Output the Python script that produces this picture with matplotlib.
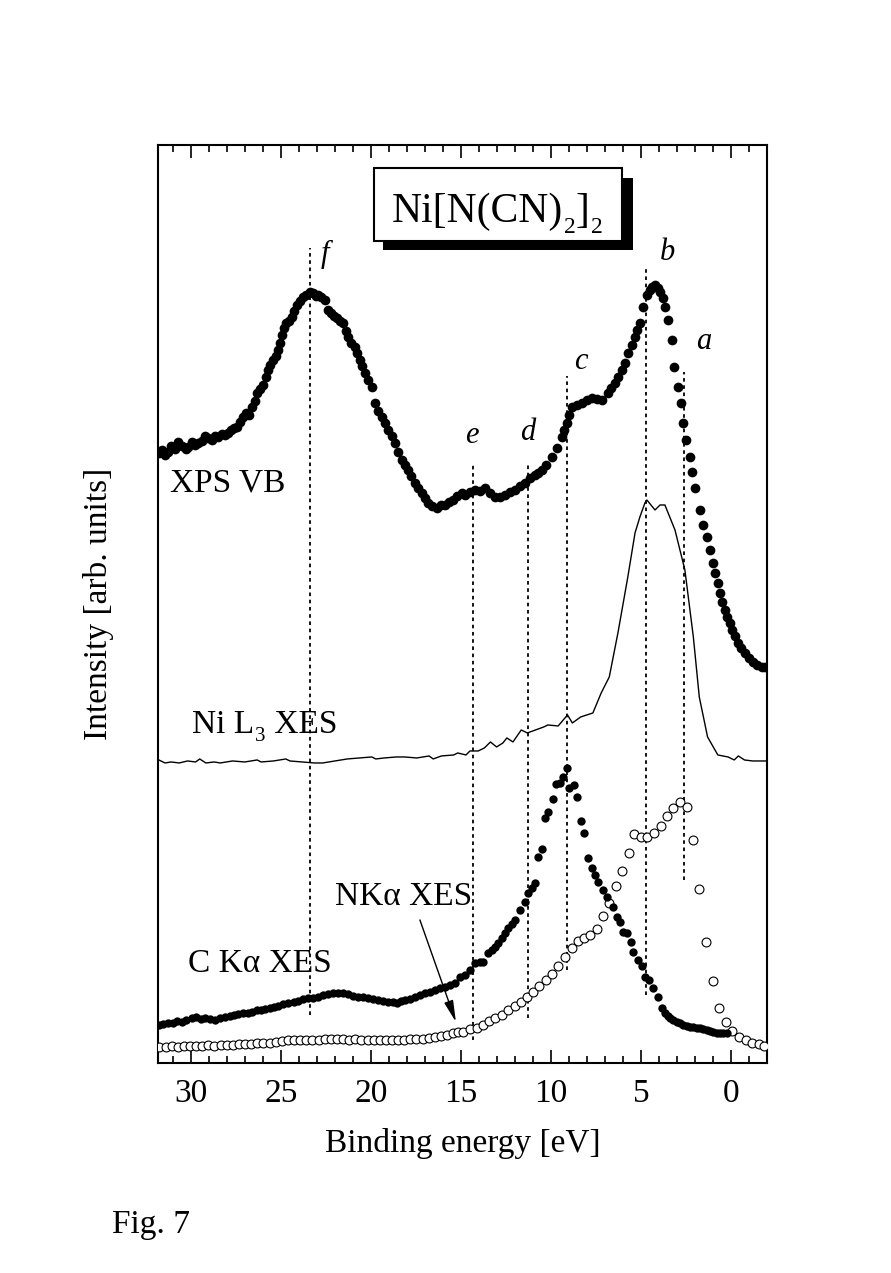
import matplotlib
matplotlib.use("Agg")
import matplotlib.pyplot as plt
from matplotlib.patches import Rectangle
from matplotlib.ticker import MultipleLocator

# ── Data (binding energy in eV, intensity in arbitrary units, offset stacked) ──
XPS_E = [31.80, 31.61, 31.45, 31.28, 31.10, 30.90, 30.72, 30.50, 30.30, 30.17,
         29.95, 29.80, 29.61, 29.40, 29.20, 29.06, 28.85, 28.65, 28.50, 28.30,
         28.10, 27.94, 27.75, 27.60, 27.44, 27.28, 27.11, 26.95, 26.80, 26.61,
         26.45, 26.33, 26.15, 26.00, 25.85, 25.72, 25.58, 25.44, 25.30, 25.17,
         25.05, 24.95, 24.85, 24.70, 24.55, 24.39, 24.25, 24.11, 23.95, 23.78,
         23.60, 23.39, 23.20, 23.05, 22.94, 22.75, 22.56, 22.39, 22.20, 22.05,
         21.89, 21.72, 21.56, 21.40, 21.28, 21.10, 20.89, 20.75, 20.61, 20.47,
         20.33, 20.15, 19.94, 19.78, 19.58, 19.39, 19.22, 19.06, 18.85, 18.67,
         18.48, 18.28, 18.10, 17.94, 17.75, 17.56, 17.37, 17.17, 17.00, 16.83,
         16.60, 16.33, 16.10, 15.89, 15.65, 15.44, 15.20, 14.94, 14.78, 14.50,
         14.22, 13.95, 13.67, 13.40, 13.11, 12.85, 12.56, 12.30, 12.00, 11.72,
         11.44, 11.15, 10.89, 10.70, 10.50, 10.25, 9.94, 9.65, 9.39, 9.25,
         9.11, 8.97, 8.83, 8.55, 8.28, 8.00, 7.72, 7.45, 7.17, 6.83,
         6.65, 6.44, 6.25, 6.06, 5.90, 5.72, 5.50, 5.33, 5.20, 5.06,
         4.89, 4.67, 4.50, 4.39, 4.22, 4.05, 3.94, 3.80, 3.67, 3.50,
         3.28, 3.17, 2.94, 2.78, 2.67, 2.50, 2.28, 2.17, 2.00, 1.72,
         1.56, 1.33, 1.17, 1.00, 0.86, 0.72, 0.60, 0.50, 0.35, 0.22,
         0.08, -0.06, -0.22, -0.39, -0.58, -0.78, -1.00, -1.22, -1.45, -1.72,
         -1.90]
XPS_I = [610, 613, 608, 611, 617, 614, 621, 617, 614, 616,
         621, 618, 620, 622, 627, 625, 623, 627, 626, 629,
         628, 630, 633, 635, 636, 641, 646, 650, 648, 656,
         662, 670, 674, 678, 686, 693, 698, 703, 707, 713,
         720, 728, 735, 740, 742, 746, 752, 758, 762, 766,
         768, 771, 770, 767, 768, 766, 763, 753, 750, 747,
         745, 742, 740, 732, 726, 720, 716, 710, 703, 697,
         690, 683, 676, 660, 652, 646, 640, 633, 627, 620,
         611, 603, 598, 593, 587, 580, 575, 570, 565, 560,
         557, 555, 558, 558, 561, 563, 567, 570, 568, 571,
         573, 572, 575, 570, 566, 566, 568, 571, 573, 577,
         580, 585, 588, 590, 593, 598, 606, 615, 626, 633,
         640, 648, 656, 658, 660, 663, 665, 664, 663, 670,
         675, 680, 686, 693, 700, 710, 718, 726, 733, 740,
         756, 768, 773, 776, 778, 775, 771, 765, 756, 743,
         723, 696, 676, 660, 640, 623, 606, 591, 575, 553,
         538, 526, 513, 500, 490, 480, 470, 461, 453, 446,
         440, 433, 427, 420, 415, 410, 405, 401, 398, 396,
         396]

NIL3_E = [31.78, 31.44, 31.10, 30.65, 30.19, 29.74, 29.51, 29.17, 28.71, 28.37,
          27.69, 27.01, 26.32, 26.10, 25.41, 24.73, 24.50, 23.82, 23.14, 22.68,
          22.00, 21.32, 20.64, 19.95, 19.73, 19.27, 18.59, 18.13, 17.45, 16.77,
          16.54, 16.09, 15.40, 15.18, 14.72, 14.50, 14.04, 13.70, 13.36, 13.02,
          12.67, 12.45, 12.11, 11.65, 11.31, 10.86, 10.40, 10.17, 9.60, 9.08,
          8.81, 8.35, 7.67, 7.21, 6.76, 6.28, 5.73, 5.33, 5.06, 4.78,
          4.67, 4.22, 3.94, 3.67, 3.11, 2.56, 2.09, 1.76, 1.30, 0.73,
          0.16, -0.18, -0.41, -0.75, -1.20, -2.00]
NIL3_I = [303, 300, 301, 300, 302, 301, 304, 300, 301, 300,
          302, 301, 303, 301, 302, 304, 302, 301, 300, 300,
          302, 304, 305, 306, 304, 305, 306, 306, 305, 307,
          304, 307, 308, 310, 308, 312, 312, 315, 321, 316,
          320, 325, 321, 333, 330, 333, 336, 338, 337, 348,
          340, 346, 350, 370, 386, 430, 486, 530, 546, 560,
          563, 553, 558, 558, 533, 493, 426, 366, 326, 308,
          306, 303, 307, 303, 302, 302]

CKA_E = [31.80, 31.55, 31.26, 31.00, 30.75, 30.52, 30.25, 29.96, 29.70, 29.45,
         29.22, 28.95, 28.67, 28.40, 28.11, 27.85, 27.60, 27.37, 27.10, 26.85,
         26.63, 26.35, 26.10, 25.89, 25.62, 25.40, 25.15, 24.88, 24.59, 24.30,
         24.04, 23.75, 23.48, 23.20, 22.93, 22.65, 22.37, 22.10, 21.82, 21.55,
         21.26, 21.00, 20.71, 20.43, 20.15, 19.87, 19.59, 19.32, 19.04, 18.80,
         18.57, 18.35, 18.11, 17.85, 17.56, 17.28, 17.00, 16.72, 16.44, 16.15,
         15.89, 15.60, 15.33, 15.06, 14.78, 14.50, 14.22, 13.95, 13.76, 13.48,
         13.30, 13.11, 12.92, 12.74, 12.55, 12.37, 12.18, 12.00, 11.72, 11.44,
         11.26, 11.07, 10.89, 10.70, 10.52, 10.33, 10.15, 9.91, 9.72, 9.50,
         9.31, 9.13, 8.98, 8.72, 8.54, 8.33, 8.15, 7.96, 7.74, 7.56,
         7.37, 7.13, 6.91, 6.57, 6.35, 6.17, 5.98, 5.80, 5.57, 5.43,
         5.18, 4.96, 4.78, 4.54, 4.31, 4.04, 3.81, 3.67, 3.50, 3.39,
         3.20, 3.02, 2.85, 2.65, 2.45, 2.28, 2.10, 1.91, 1.72, 1.54,
         1.35, 1.17, 0.98, 0.80, 0.62, 0.43, 0.24]
CKA_I = [38, 39, 40, 40, 42, 41, 43, 45, 46, 44,
         45, 44, 43, 45, 46, 47, 48, 49, 50, 50,
         51, 53, 53, 54, 55, 56, 57, 59, 60, 61,
         62, 64, 65, 65, 66, 68, 69, 70, 70, 70,
         69, 67, 66, 66, 65, 64, 63, 62, 61, 61,
         60, 62, 63, 64, 66, 68, 70, 71, 73, 75,
         76, 78, 80, 86, 88, 93, 100, 101, 101, 110,
         113, 116, 120, 125, 130, 135, 139, 143, 153, 161,
         170, 175, 180, 206, 214, 245, 251, 264, 279, 280,
         286, 295, 275, 278, 266, 242, 230, 205, 195, 188,
         181, 173, 166, 156, 146, 141, 131, 130, 121, 111,
         103, 97, 86, 83, 75, 66, 55, 50, 47, 45,
         43, 41, 40, 38, 37, 36, 36, 35, 35, 34,
         33, 32, 31, 30, 30, 30, 30]

NKA_E = [31.75, 31.41, 31.07, 30.73, 30.39, 30.05, 29.71, 29.37, 29.03, 28.69,
         28.35, 28.01, 27.67, 27.33, 26.99, 26.65, 26.31, 25.97, 25.63, 25.29,
         24.95, 24.61, 24.27, 23.93, 23.59, 23.25, 22.91, 22.57, 22.23, 21.89,
         21.55, 21.21, 20.87, 20.53, 20.19, 19.85, 19.51, 19.17, 18.83, 18.49,
         18.15, 17.81, 17.47, 17.13, 16.79, 16.45, 16.11, 15.77, 15.43, 15.15,
         14.87, 14.50, 14.13, 13.80, 13.44, 13.11, 12.74, 12.37, 12.00, 11.67,
         11.31, 10.98, 10.65, 10.28, 9.93, 9.59, 9.22, 8.85, 8.52, 8.17,
         7.83, 7.46, 7.09, 6.76, 6.41, 6.04, 5.68, 5.37, 5.00, 4.65,
         4.28, 3.91, 3.54, 3.20, 2.83, 2.46, 2.09, 1.76, 1.39, 1.02,
         0.67, 0.29, -0.07, -0.44, -0.82, -1.18, -1.56, -1.85]
NKA_I = [16, 16, 17, 16, 17, 17, 17, 17, 18, 17,
         18, 18, 18, 19, 19, 19, 20, 20, 20, 21,
         22, 23, 23, 23, 23, 23, 23, 24, 24, 24,
         24, 23, 24, 23, 23, 23, 23, 23, 23, 23,
         23, 24, 24, 24, 25, 26, 27, 28, 30, 31,
         31, 34, 35, 38, 42, 45, 48, 53, 57, 61,
         66, 71, 77, 83, 89, 97, 106, 115, 122, 125,
         128, 134, 147, 160, 177, 192, 210, 229, 226, 226,
         230, 237, 247, 255, 261, 256, 223, 174, 121, 82,
         55, 41, 32, 26, 23, 20, 19, 17]

# peak markers a-f: energy, dotted-line extent, label
PEAK_NAMES = ["a", "b", "c", "d", "e", "f"]
PEAK_E     = [2.59, 4.72, 9.13, 11.26, 14.33, 23.39]
PEAK_LO    = [183, 68, 93, 45, 23, 48]
PEAK_HI    = [691, 796, 687, 601, 600, 815]

SERIF = "Liberation Serif"
plt.rcParams["font.family"] = SERIF


def text_with_subs(ax, x, y, parts, size, sub_size, sub_drop, **kw):
    """Write text pieces in a row; pieces flagged True are subscripts."""
    first_txt, is_sub = parts[0]
    main = ax.text(x, y, first_txt, fontsize=size, ha="left", va="baseline", **kw)
    prev = main
    for txt, is_sub in parts[1:]:
        if is_sub:
            prev = ax.annotate(txt, xy=(1, 0), xycoords=(prev, main),
                               xytext=(0.5, -sub_drop), textcoords="offset points",
                               fontsize=sub_size, ha="left", va="baseline", **kw)
        else:
            prev = ax.annotate(txt, xy=(1, 0), xycoords=(prev, main),
                               xytext=(0.5, 0), textcoords="offset points",
                               fontsize=size, ha="left", va="bottom", **kw)
    return main


fig = plt.figure(figsize=(8.91, 12.73), dpi=100)
ax = fig.add_axes([0.1773, 0.1650, 0.6835, 0.7211])

ax.plot(XPS_E, XPS_I, "o", color="black", ms=7.0, mew=0, zorder=4)
ax.plot(NIL3_E, NIL3_I, "-", color="black", lw=1.0, zorder=3)
ax.plot(CKA_E, CKA_I, "o", color="black", ms=6.0, mew=0, zorder=4)
ax.plot(NKA_E, NKA_I, "o", mfc="white", mec="black", ms=6.4, mew=0.8, zorder=3)

for name, e, lo, hi in zip(PEAK_NAMES, PEAK_E, PEAK_LO, PEAK_HI):
    ax.plot([e, e], [lo, hi], color="black", lw=1.3, ls=(0, (2, 2)), zorder=2)

lab_kw = dict(fontsize=22, fontstyle="italic", ha="center", va="baseline")
ax.text(1.54, 714, "a", **lab_kw)
ax.text(3.51, 803, "b", **lab_kw)
ax.text(8.33, 694, "c", **lab_kw)
ax.text(11.29, 623, "d", **lab_kw)
ax.text(14.37, 620, "e", **lab_kw)
ax.text(22.57, 801, "f", **lab_kw)

# spectrum labels
txt_kw = dict(fontsize=24, ha="left", va="baseline")
ax.text(31.17, 571, "XPS VB", **txt_kw)
text_with_subs(ax, 29.96, 330, [("Ni L", False), ("3", True), (" XES", False)],
               24, 15, 0.5)
ax.text(22.0, 158, "NK\u03b1 XES", **txt_kw)
ax.text(30.15, 91, "C K\u03b1 XES", **txt_kw)
ax.annotate("", xy=(15.28, 41), xytext=(17.28, 143),
            arrowprops=dict(arrowstyle="-|>,head_length=1.3,head_width=0.28",
                            color="black", lw=1.0, shrinkA=0, shrinkB=0,
                            mutation_scale=10))

# compound name in a shadowed box
ax.add_patch(Rectangle((5.43, 813), 13.89, 71.7, facecolor="black",
                       edgecolor="black", lw=0, zorder=5))
ax.add_patch(Rectangle((6.07, 822.3), 13.76, 72.4, facecolor="white",
                       edgecolor="black", lw=1.5, zorder=6))
text_with_subs(ax, 18.85, 841,
               [("Ni[N(CN)", False), ("2", True), ("]", False), ("2", True)],
               30, 17, 1.5, zorder=7)

ax.set_xlim(31.83, -2.0)
ax.set_ylim(0, 918)
ax.set_xticks([30, 25, 20, 15, 10, 5, 0])
ax.xaxis.set_minor_locator(MultipleLocator(1))
ax.set_yticks([])
ax.tick_params(axis="x", which="both", direction="in", top=True, bottom=True,
               width=1.2, labelsize=24, pad=11)
ax.tick_params(axis="x", which="major", length=9.5)
ax.tick_params(axis="x", which="minor", length=5)
for sp in ax.spines.values():
    sp.set_linewidth(1.5)

ax.set_xlabel("Binding energy [eV]", fontsize=24, labelpad=14)
ax.set_ylabel("Intensity [arb. units]", fontsize=24, labelpad=32)

fig.text(112 / 891, 1 - 1233 / 1273, "Fig. 7", fontsize=24, ha="left",
         va="baseline")

fig.savefig("out.png", dpi=100)
plt.close(fig)
